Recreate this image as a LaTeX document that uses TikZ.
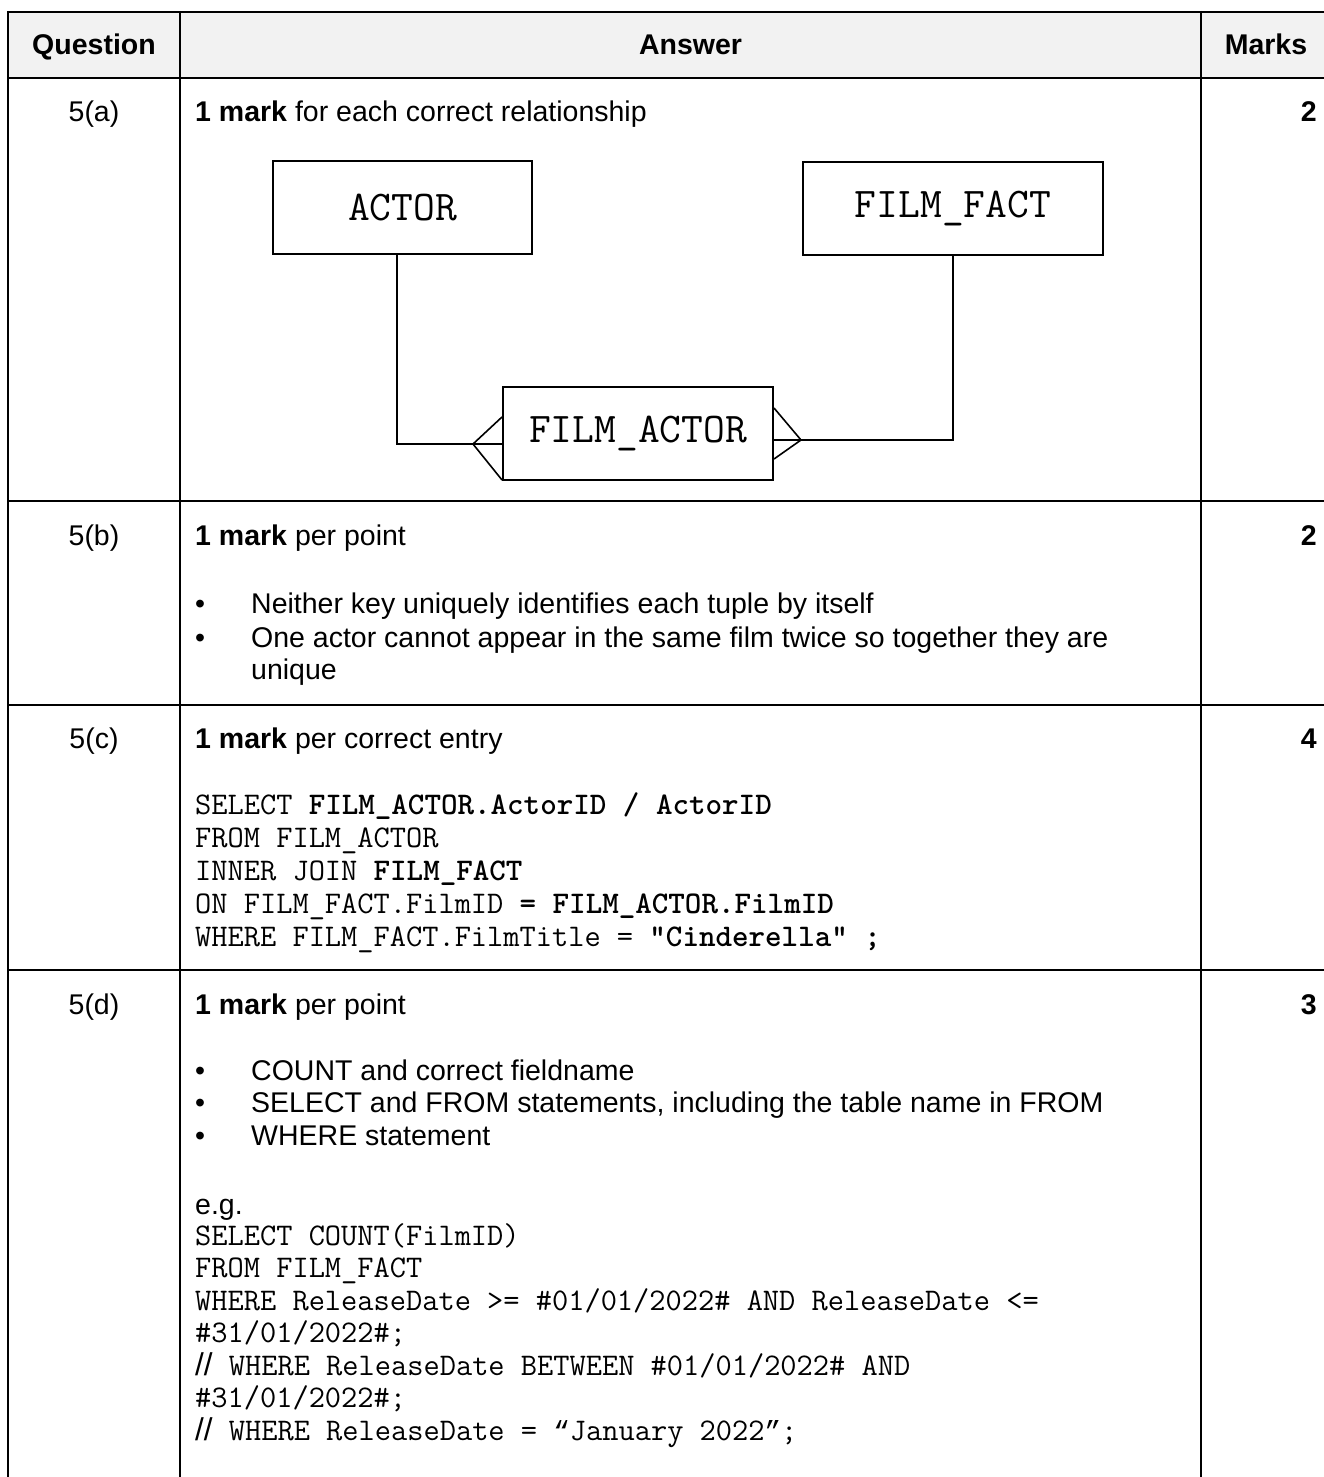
\documentclass[tikz,border=0pt]{standalone}
\usepackage{fontspec}
\setmainfont{Liberation Sans}
\newfontfamily\sansf{Liberation Sans}
\newfontfamily\lmono{Liberation Mono}
\definecolor{hdr}{HTML}{F2F2F2}
\begin{document}
\begin{tikzpicture}[x=1pt,y=-1pt,
  txt/.style={anchor=base west,inner sep=0pt,font=\fontsize{28.5}{33}\selectfont},
  ctr/.style={anchor=base,inner sep=0pt,font=\fontsize{28.5}{33}\selectfont},
  hd/.style={anchor=base,inner sep=0pt,font=\bfseries\fontsize{28.5}{33}\selectfont},
  mk/.style={anchor=base east,inner sep=0pt,font=\bfseries\fontsize{28.5}{33}\selectfont},
  code/.style={anchor=base west,inner sep=0pt,font=\ttfamily\fontsize{31.5}{33}\selectfont},
  ent/.style={draw,line width=2pt,inner sep=0pt,font=\ttfamily\fontsize{42.3}{44}\selectfont},
  grid/.style={line width=2pt},
  conn/.style={line width=1.6pt}
]
\useasboundingbox (0,0) rectangle (1323,1477);
\fill[white] (0,0) rectangle (1323,1477);
% table
\fill[hdr] (8,12) rectangle (1330,78);
\draw[grid] (8,12) -- (1330,12);
\draw[grid] (8,78) -- (1330,78);
\draw[grid] (8,501) -- (1330,501);
\draw[grid] (8,705) -- (1330,705);
\draw[grid] (8,970) -- (1330,970);
\draw[grid] (8,11) -- (8,1485);
\draw[grid] (180,11) -- (180,1485);
\draw[grid] (1201,11) -- (1201,1485);
% header
\node[hd] (hq) at (94,55) {Question};
\node[hd] (ha) at (690.5,55) {Answer};
\node[hd] (hm) at (1266,55) {Marks};
% question labels
\node[ctr] (qa) at (94,122) {5(a)};
\node[ctr] (qb) at (94,545) {5(b)};
\node[ctr] (qc) at (94,748) {5(c)};
\node[ctr] (qd) at (94,1014) {5(d)};
% marks
\node[mk] (ma) at (1317,122) {2};
\node[mk] (mb) at (1317,545) {2};
\node[mk] (mc) at (1317,748) {4};
\node[mk] (md) at (1317,1014) {3};
% 5(a)
\node[txt] (ta) at (195,122) {\textbf{1 mark} for each correct relationship};
\node[ent,minimum width=259pt,minimum height=93pt] (actor) at (402.5,207.5) {ACTOR};
\node[ent,minimum width=300pt,minimum height=93pt] (filmfact) at (953,208.5) {FILM\_FACT};
\node[ent,minimum width=270pt,minimum height=93pt] (filmactor) at (638,433.5) {FILM\_ACTOR};
\coordinate (la) at (473,444);
\coordinate (ra) at (801,440);
\draw[conn] ([xshift=-5.5pt]actor.south) |- (la);
\draw[conn] ([yshift=16.5pt]filmactor.west) -- (la) -- (filmactor.west |- la);
\draw[conn] (la) -- ([yshift=1pt]filmactor.south west);
\draw[conn] ([yshift=25.5pt]filmactor.east) -- (ra) -- (filmactor.east |- ra);
\draw[conn] (ra) -- ([yshift=-25.5pt]filmactor.east);
\draw[conn] (ra) -| (filmfact.south);
% 5(b)
\node[txt] (tb) at (195,545) {\textbf{1 mark} per point};
\node[ctr] (b1d) at (200,613) {•};
\node[txt] (b1) at (251,613) {Neither key uniquely identifies each tuple by itself};
\node[ctr] (b2d) at (200,647) {•};
\node[txt] (b2) at (251,647) {One actor cannot appear in the same film twice so together they are};
\node[txt] (b3) at (251,679) {unique};
% 5(c)
\node[txt] (tc) at (195,748) {\textbf{1 mark} per correct entry};
\node[code] (c1) at (195,814) {SELECT \textbf{FILM\_ACTOR.ActorID / ActorID}};
\node[code] (c2) at (195,847) {FROM FILM\_ACTOR};
\node[code] (c3) at (195,880) {INNER JOIN \textbf{FILM\_FACT}};
\node[code] (c4) at (195,913) {ON FILM\_FACT.FilmID \textbf{= FILM\_ACTOR.FilmID}};
\node[code] (c5) at (195,946) {WHERE FILM\_FACT.FilmTitle = \textbf{"Cinderella" ;}};
% 5(d)
\node[txt] (td) at (195,1014) {\textbf{1 mark} per point};
\node[ctr] (d1d) at (200,1080) {•};
\node[txt] (d1) at (251,1080) {COUNT and correct fieldname};
\node[ctr] (d2d) at (200,1112.5) {•};
\node[txt] (d2) at (251,1112.5) {SELECT and FROM statements, including the table name in FROM};
\node[ctr] (d3d) at (200,1145) {•};
\node[txt] (d3) at (251,1145) {WHERE statement};
\node[txt] (eg) at (195,1214) {e.g.};
\node[code] (e1) at (195,1245) {SELECT COUNT(FilmID)};
\node[code] (e2) at (195,1277.5) {FROM FILM\_FACT};
\node[code] (e3) at (195,1310) {WHERE ReleaseDate >= \#01/01/2022\# AND ReleaseDate <=};
\node[code] (e4) at (195,1342.5) {\#31/01/2022\#;};
\node[code] (e5) at (195,1375) {{\sansf//} WHERE ReleaseDate BETWEEN \#01/01/2022\# AND};
\node[code] (e6) at (195,1407.5) {\#31/01/2022\#;};
\node[code] (e7) at (195,1440) {{\sansf//} WHERE ReleaseDate = {\lmono\fontsize{27.6}{33}\selectfont“}January 2022{\lmono\fontsize{27.6}{33}\selectfont”};};
\end{tikzpicture}
\end{document}
